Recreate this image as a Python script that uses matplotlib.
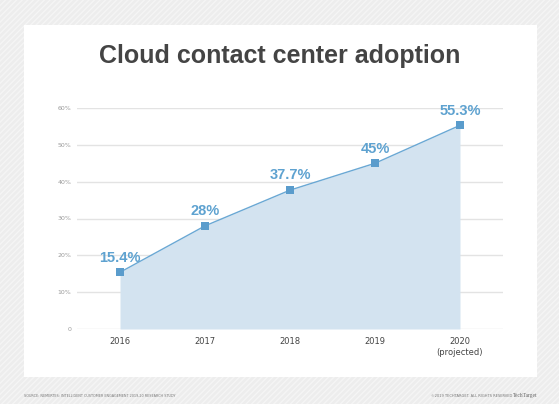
import matplotlib
matplotlib.use("Agg")
import matplotlib.pyplot as plt
from matplotlib.patches import Rectangle

years = [2016, 2017, 2018, 2019, 2020]
adoption = [15.4, 28, 37.7, 45, 55.3]
point_labels = ["15.4%", "28%", "37.7%", "45%", "55.3%"]
x_labels = ["2016", "2017", "2018", "2019", "2020\n(projected)"]
y_ticks = [0, 10, 20, 30, 40, 50, 60]
y_labels = ["0", "10%", "20%", "30%", "40%", "50%", "60%"]

W, H = 559, 404
fig = plt.figure(figsize=(W / 100, H / 100), dpi=100)
fig.patch.set_facecolor("#ededed")

plt.rcParams['hatch.linewidth'] = 1.0
bg = Rectangle((0, 0), 1, 1, transform=fig.transFigure, facecolor="#ededed",
               edgecolor="#f5f5f5", hatch="//////", linewidth=0, zorder=0)
fig.patches.append(bg)
panel = Rectangle((24 / W, 1 - 377 / H), 513 / W, 352 / H, transform=fig.transFigure,
                  facecolor="white", edgecolor="none", zorder=1)
fig.patches.append(panel)

ax = fig.add_axes([77 / W, 1 - 329 / H, 426 / W, 221 / H])
ax.set_facecolor("none")
ax.set_zorder(2)

line_c = "#6aa8d4"
ax.fill_between(years, adoption, 0, color="#d3e3f0", zorder=2, linewidth=0)
ax.plot(years, adoption, color=line_c, lw=1.0, zorder=3)
ax.scatter(years, adoption, marker="s", s=36, color="#5a9ccc", zorder=4, linewidths=0)
for x, y, t in zip(years, adoption, point_labels):
    ax.annotate(t, (x, y), xytext=(0, 5.5), textcoords="offset points", ha="center",
                va="bottom", fontsize=10.5, fontweight="bold", color="#5ea2d0",
                family=["Liberation Sans", "DejaVu Sans"], zorder=5)

ax.set_xlim(2015.494, 2020.506)
ax.set_ylim(0, 60)
ax.set_yticks(y_ticks)
ax.set_yticklabels(y_labels, fontsize=4.5, color="#9a9a9a")
ax.set_xticks(years)
ax.set_xticklabels(x_labels, fontsize=6, color="#444444", linespacing=1.2)
ax.tick_params(axis="both", length=0)
ax.tick_params(axis="x", pad=6)
ax.tick_params(axis="y", pad=4)
ax.grid(axis="y", color="#e3e3e3", lw=1.0, zorder=1)
ax.set_axisbelow(True)
for s in ax.spines.values():
    s.set_visible(False)

fig.text(280 / W, 1 - 56 / H, "Cloud contact center adoption", ha="center", va="center",
         fontsize=18, fontweight="bold", color="#444444",
         family=["Liberation Sans", "DejaVu Sans"], zorder=3)

fig.text(24 / W, 1 - 396 / H, "SOURCE: NEMERTES: INTELLIGENT CUSTOMER ENGAGEMENT 2019-20 RESEARCH STUDY",
         ha="left", va="center", fontsize=2.45, color="#777777", zorder=3)
fig.text(512 / W, 1 - 396 / H, "©2019 TECHTARGET. ALL RIGHTS RESERVED",
         ha="right", va="center", fontsize=2.6, color="#777777", zorder=3)
fig.text(537 / W, 1 - 396 / H, "TechTarget", ha="right", va="center", fontsize=4.0,
         color="#666666", family=["Liberation Serif", "DejaVu Serif"], zorder=3)

fig.savefig("out.png", dpi=100, facecolor=fig.get_facecolor())
